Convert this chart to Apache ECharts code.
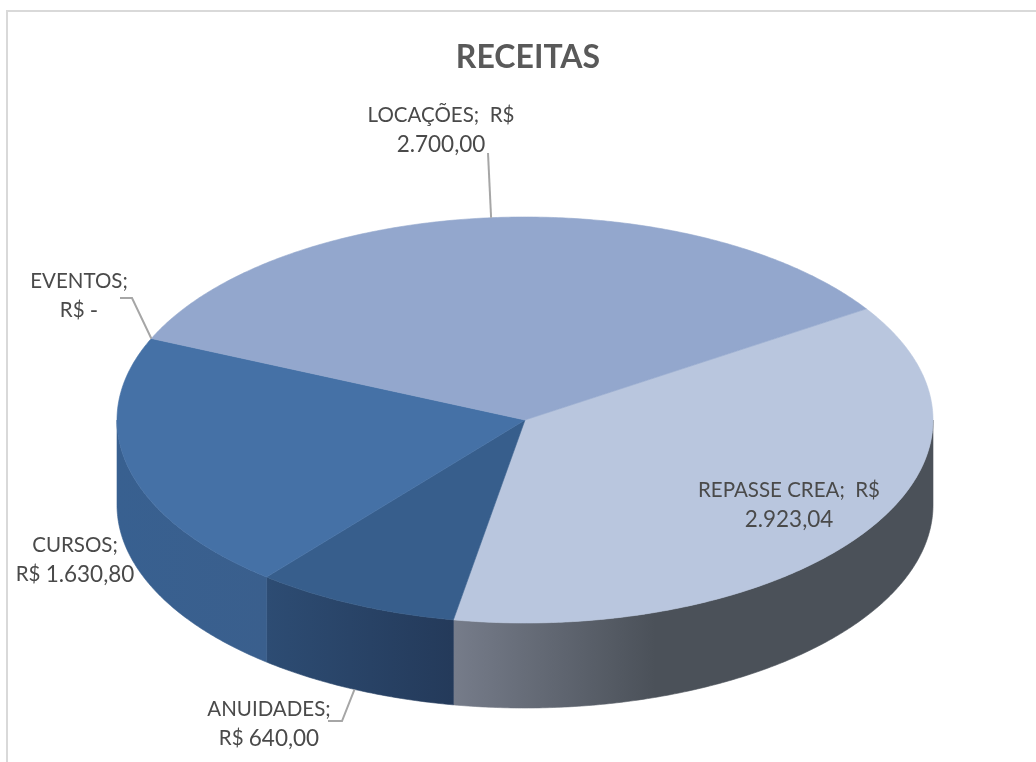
<!DOCTYPE html>
<html>
<head>
<meta charset="utf-8">
<title>RECEITAS</title>
<script src="https://cdn.jsdelivr.net/npm/echarts@6/dist/echarts.min.js"></script>
<style>
  html, body { margin: 0; padding: 0; background: #fff; }
  #chart { width: 1036px; height: 762px; }
</style>
</head>
<body>
<div id="chart"></div>
<script>
// clockwise, starting at the REPASSE CREA / LOCAÇÕES border
const categories = ['REPASSE CREA', 'ANUIDADES', 'CURSOS', 'EVENTOS', 'LOCAÇÕES'];
const values = [2923.04, 640.00, 1630.80, 0, 2700.00];

const topColors = ['#b9c6de', '#375e8c', '#4571a6', '#4571a6', '#93a7cd'];
const wallStops = [
  [[0, '#767c8a'], [0.42, '#4b5159'], [1, '#4b5159']],
  [[0, '#2d4c73'], [1, '#243a5a']],
  [[0, '#386090'], [1, '#3a5f8d']],
  [[0, '#386090'], [1, '#386090']],
  [[0, '#93a7cd'], [1, '#93a7cd']]
];

// pie layout
const cx = 525, cy = 420, rx = 408, ry = 203, depth = 85;
const startAngle = -33.2;

// label layout: centre of text, break after the name or after "R$", leader bends
const labelLayout = [
  {x: 789, y: 505, breakAfter: 'R$', leader: []},
  {x: 269, y: 724, breakAfter: 'name', leader: [[342, 721], [328, 721]], onWall: true},
  {x: 75, y: 560, breakAfter: 'name', leader: []},
  {x: 79, y: 296, breakAfter: 'name', leader: [[132, 298], [120, 298]]},
  {x: 441, y: 130, breakAfter: 'R$', leader: [[488, 153]]}
];

const total = values.reduce((a, b) => a + b, 0);
const angles = [];
let run = startAngle;
values.forEach(v => {
  const sweep = v / total * 360;
  angles.push([run, run + sweep]);
  run += sweep;
});

const rimPoint = (deg, dy = 0) => {
  const r = deg * Math.PI / 180;
  return [cx + rx * Math.cos(r), cy + ry * Math.sin(r) + dy];
};

const arcPoints = (a0, a1, dy = 0) => {
  const pts = [];
  for (let a = a0; a < a1; a += 0.5) pts.push(rimPoint(a, dy));
  pts.push(rimPoint(a1, dy));
  return pts;
};

const money = (v) => v === 0 ? '-' : v.toLocaleString('pt-BR', {minimumFractionDigits: 2, maximumFractionDigits: 2});

const labelText = (i) => {
  const amount = '{v|' + money(values[i]) + '}';
  if (labelLayout[i].breakAfter === 'R$') return '{n|' + categories[i] + ';  R$}\n' + amount;
  return '{n|' + categories[i] + ';}\n{n|R$ }' + amount;
};

// front wall of a slice, only the part between 0 and 180 degrees shows
const renderWall = (params) => {
  const i = params.dataIndex;
  const a0 = Math.max(angles[i][0], 0);
  const a1 = Math.min(angles[i][1], 180);
  if (a1 <= a0) return {type: 'group', children: []};
  const upper = arcPoints(a0, a1);
  const lower = arcPoints(a0, a1, depth).reverse();
  const xs = upper.map(p => p[0]);
  const stops = wallStops[i].map(s => ({offset: s[0], color: s[1]}));
  const fill = new echarts.graphic.LinearGradient(Math.min(...xs), 0, Math.max(...xs), 0, stops, true);
  return {
    type: 'polygon',
    shape: {points: upper.concat(lower)},
    style: {fill: fill, stroke: fill, lineWidth: 0.6}
  };
};

const renderTop = (params) => {
  const i = params.dataIndex;
  if (values[i] === 0) return {type: 'group', children: []};
  return {
    type: 'polygon',
    shape: {points: [[cx, cy]].concat(arcPoints(angles[i][0], angles[i][1]))},
    style: {fill: topColors[i], stroke: topColors[i], lineWidth: 0.6}
  };
};

const renderLabel = (params) => {
  const i = params.dataIndex;
  const layout = labelLayout[i];
  const mid = (angles[i][0] + angles[i][1]) / 2;
  const children = [];
  if (layout.leader.length) {
    const from = rimPoint(mid, layout.onWall ? depth : 0);
    children.push({
      type: 'polyline',
      shape: {points: [from].concat(layout.leader)},
      style: {stroke: '#a6a6a6', lineWidth: 2, fill: null}
    });
  }
  children.push({
    type: 'text',
    style: {
      x: layout.x,
      y: layout.y,
      text: labelText(i),
      align: 'center',
      verticalAlign: 'middle',
      rich: {
        n: {font: '20.5px Lato', fill: '#4a4a4a', lineHeight: 29},
        v: {font: '22.5px Lato', fill: '#4a4a4a', lineHeight: 29}
      }
    }
  });
  return {type: 'group', children: children};
};

const seriesData = categories.map((name, i) => ({name: name, value: values[i]}));

const option = {
  animation: false,
  title: {
    text: 'RECEITAS',
    left: 523,
    top: 37,
    textAlign: 'center',
    textStyle: {color: '#595959', fontFamily: 'Lato', fontWeight: 'bold', fontSize: 32}
  },
  graphic: [{
    type: 'polyline',
    silent: true,
    shape: {points: [[7, 762], [7, 11], [1036, 11]]},
    style: {stroke: '#d9d9d9', lineWidth: 2, fill: null}
  }],
  series: [
    {type: 'custom', coordinateSystem: 'none', z: 1, silent: true, data: seriesData, renderItem: renderWall},
    {type: 'custom', coordinateSystem: 'none', z: 2, silent: true, data: seriesData, renderItem: renderTop},
    {type: 'custom', coordinateSystem: 'none', z: 3, silent: true, data: seriesData, renderItem: renderLabel}
  ]
};

const chartObj = echarts.init(document.getElementById('chart'));
chartObj.setOption(option);
</script>
</body>
</html>
